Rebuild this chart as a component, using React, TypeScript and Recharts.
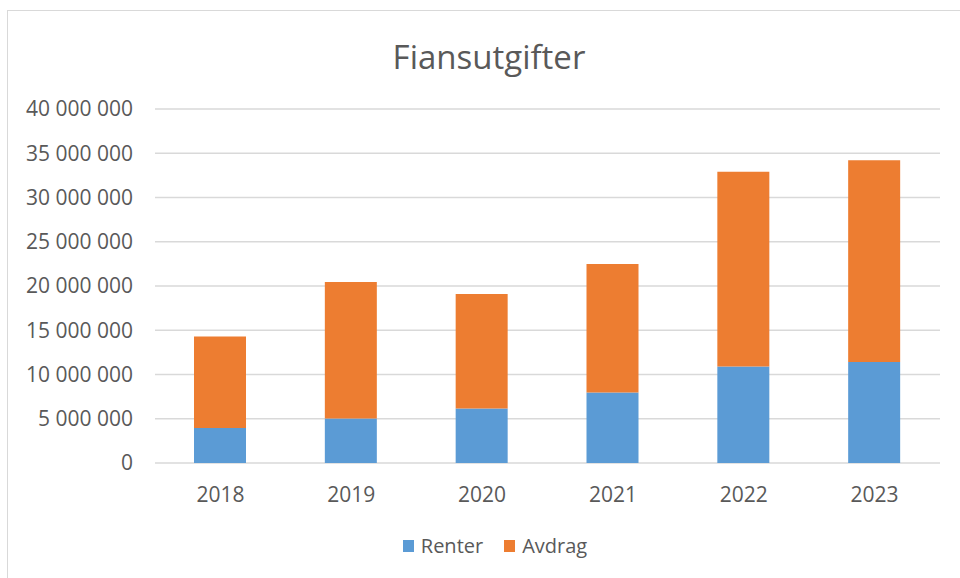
import { BarChart, Bar, CartesianGrid, XAxis, YAxis, Legend } from "recharts";

const years = ["2018", "2019", "2020", "2021", "2022", "2023"];
const renter = [3950000, 5040000, 6170000, 7980000, 10900000, 11400000];
const avdrag = [10350000, 15400000, 12930000, 14520000, 22000000, 22800000];
const yTicks = [0, 5000000, 10000000, 15000000, 20000000, 25000000, 30000000, 35000000, 40000000];

const seriesNames = ["Renter", "Avdrag"];
const seriesColors = ["#5B9BD5", "#ED7D31"];

const FONT = "'Open Sans', sans-serif";
const TEXT = "#595959";

const data = years.map((year, i) => ({ year, renter: renter[i], avdrag: avdrag[i] }));

// tusenskille med mellomrom, som i Excel
const fmt = (v: number) => String(v).replace(/\B(?=(\d{3})+(?!\d))/g, " ");

// Recharts snur rekkefølgen for stablede søyler, så vi setter den selv
const LegendContent = () => (
  <div style={{ display: "flex", justifyContent: "center", gap: 21, fontFamily: FONT, fontSize: 20, color: TEXT }}>
    {seriesNames.map((name, i) => (
      <span key={name} style={{ display: "flex", alignItems: "center", gap: 7 }}>
        <span style={{ width: 11, height: 12, background: seriesColors[i], display: "inline-block" }} />
        {name}
      </span>
    ))}
  </div>
);

export default function App() {
  return (
    <div style={{ position: "absolute", left: 0, top: 0, width: 960, height: 578, overflow: "hidden", background: "#fff" }}>
      {/* ramme rundt diagrammet */}
      <div style={{ position: "absolute", left: 7, top: 10, width: 1000, height: 1000, border: "1.5px solid #d9d9d9" }} />
      <div style={{ position: "absolute", left: 9, top: 34, width: 960, textAlign: "center", fontFamily: FONT, fontSize: 33, color: TEXT }}>
        Fiansutgifter
      </div>
      <div style={{ position: "absolute", left: 0, top: 0 }}>
        <BarChart width={960} height={578} data={data} margin={{ top: 109, right: 20, bottom: 75, left: 0 }} barSize={52}>
          <CartesianGrid vertical={false} stroke="#d9d9d9" strokeWidth={1.4} />
          <XAxis
            dataKey="year"
            height={40}
            axisLine={false}
            tickLine={false}
            tickSize={0}
            tickMargin={24}
            tick={{ fill: TEXT, fontSize: 21, fontFamily: FONT }}
          />
          <YAxis
            width={155}
            domain={[0, 40000000]}
            ticks={yTicks}
            tickFormatter={fmt}
            axisLine={false}
            tickLine={false}
            tickSize={0}
            tickMargin={22}
            tick={{ fill: TEXT, fontSize: 21, fontFamily: FONT }}
          />
          <Legend
            verticalAlign="middle"
            align="center"
            layout="horizontal"
            wrapperStyle={{ top: 532, left: 0, width: 990 }}
            content={<LegendContent />}
          />
          <Bar dataKey="renter" name={seriesNames[0]} stackId="a" fill={seriesColors[0]} isAnimationActive={false} />
          <Bar dataKey="avdrag" name={seriesNames[1]} stackId="a" fill={seriesColors[1]} isAnimationActive={false} />
        </BarChart>
      </div>
    </div>
  );
}
